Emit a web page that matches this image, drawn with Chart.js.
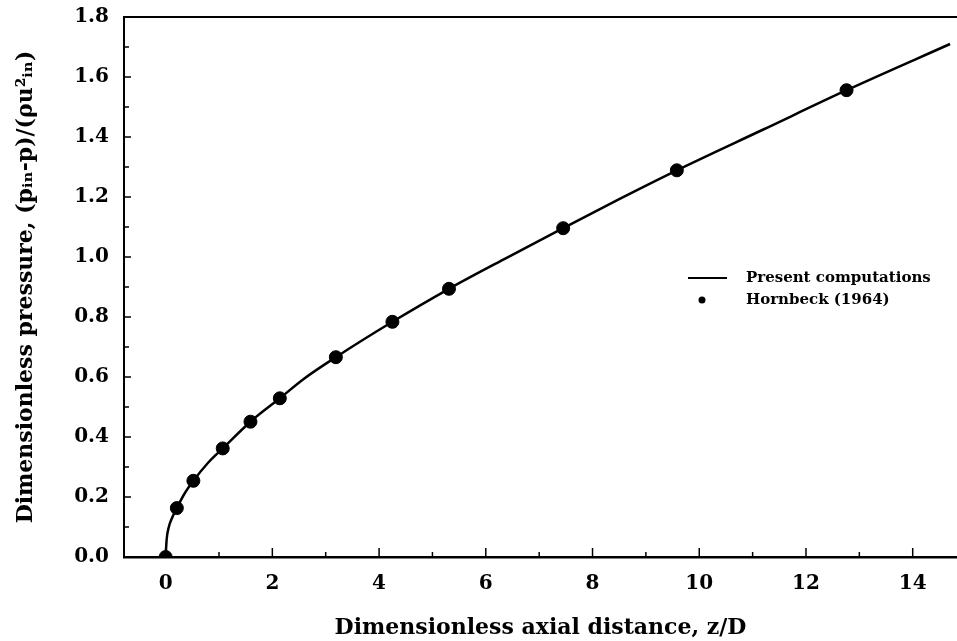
<!DOCTYPE html>
<html>
<head>
<meta charset="utf-8">
<script src="https://cdn.jsdelivr.net/npm/chart.js@4/dist/chart.umd.min.js"></script>
<style>
  html, body { margin: 0; padding: 0; background: #fff; overflow: hidden; }
  #wrap { width: 957px; height: 641px; }
</style>
</head>
<body>
<div id="wrap"><canvas id="chart"></canvas></div>
<script>
// present computations (solid line)
const lineX = [0, 0.02, 0.06, 0.12, 0.21, 0.35, 0.52, 0.8, 1.07, 1.59, 2.14, 2.6, 3.19, 4.25, 5.31, 6.4, 7.45, 8.5, 9.58, 11.2, 12.76, 14.7]
const lineY = [0, 0.06, 0.1, 0.13, 0.163, 0.21, 0.254, 0.315, 0.362, 0.451, 0.529, 0.595, 0.666, 0.784, 0.894, 0.998, 1.096, 1.193, 1.289, 1.425, 1.556, 1.71]

// Hornbeck (1964) measurements
const hornX = [0, 0.21, 0.52, 1.07, 1.59, 2.14, 3.19, 4.25, 5.31, 7.45, 9.58, 12.76]
const hornY = [0, 0.163, 0.254, 0.362, 0.451, 0.529, 0.666, 0.784, 0.894, 1.096, 1.289, 1.556]

const xTicks = [0, 2, 4, 6, 8, 10, 12, 14]
const yTicks = [0, 0.2, 0.4, 0.6, 0.8, 1.0, 1.2, 1.4, 1.6, 1.8]

const legendNames = ['Present computations', 'Hornbeck (1964)']

const serif = "'DejaVu Serif', 'Liberation Serif', serif"

function toPoints(xs, ys) {
    let pts = []
    for (let i = 0; i < xs.length; i++) pts.push({x: xs[i], y: ys[i]})
    return pts
}

// inward ticks, top frame line and the in-plot legend
const decorations = {
    id: 'decorations',
    afterDraw(chart) {
        const ctx = chart.ctx
        const xs = chart.scales.x
        const ys = chart.scales.y
        const area = chart.chartArea
        ctx.save()
        ctx.strokeStyle = '#000'

        // top frame
        ctx.lineWidth = 2
        ctx.beginPath()
        ctx.moveTo(area.left, area.top)
        ctx.lineTo(area.right, area.top)
        ctx.stroke()

        ctx.lineWidth = 1.5
        for (let v = 0; v <= 14; v++) {
            const px = xs.getPixelForValue(v)
            const len = v % 2 === 0 ? 9 : 5
            ctx.beginPath()
            ctx.moveTo(px, area.bottom)
            ctx.lineTo(px, area.bottom - len)
            ctx.stroke()
        }
        for (let k = 1; k <= 18; k++) {
            const py = ys.getPixelForValue(k / 10)
            const len = k % 2 === 0 ? 7 : 5
            ctx.beginPath()
            ctx.moveTo(area.left, py)
            ctx.lineTo(area.left + len, py)
            ctx.stroke()
        }

        // legend
        const lx = 688, ly = 278
        ctx.lineWidth = 2
        ctx.beginPath()
        ctx.moveTo(lx, ly)
        ctx.lineTo(lx + 39, ly)
        ctx.stroke()
        ctx.fillStyle = '#000'
        ctx.beginPath()
        ctx.arc(lx + 14, ly + 22, 3.5, 0, Math.PI * 2)
        ctx.fill()
        ctx.font = "bold 15px " + serif
        ctx.textBaseline = 'middle'
        ctx.textAlign = 'left'
        ctx.fillText(legendNames[0], lx + 58, ly)
        ctx.fillText(legendNames[1], lx + 58, ly + 22)
        ctx.restore()
    }
}

new Chart(document.getElementById('chart'), {
    type: 'scatter',
    data: {
        datasets: [{
            label: legendNames[0],
            data: toPoints(lineX, lineY),
            showLine: true,
            borderColor: '#000',
            borderWidth: 2.5,
            pointRadius: 0,
            cubicInterpolationMode: 'monotone',
            order: 2
        }, {
            label: legendNames[1],
            data: toPoints(hornX, hornY),
            showLine: false,
            backgroundColor: '#000',
            borderColor: '#000',
            pointRadius: 6.5,
            order: 1
        }]
    },
    options: {
        responsive: true,
        maintainAspectRatio: false,
        animation: false,
        layout: { autoPadding: false, padding: { top: 17, right: 0, left: 0, bottom: 0 } },
        plugins: {
            legend: { display: false },
            tooltip: { enabled: false }
        },
        scales: {
            x: {
                type: 'linear',
                min: -0.78,
                max: 14.83,
                afterBuildTicks: (scale) => { scale.ticks = xTicks.map(v => ({value: v})) },
                afterFit: (scale) => {
                    scale.height = 84
                    scale.paddingLeft = 0
                    scale.paddingRight = 0
                },
                grid: { display: false, drawTicks: false },
                border: { display: true, color: '#000', width: 2.5 },
                ticks: {
                    color: '#000',
                    padding: 15,
                    maxRotation: 0,
                    font: { family: serif, size: 20, weight: 'bold' }
                },
                title: {
                    display: true,
                    text: 'Dimensionless axial distance, z/D',
                    color: '#000',
                    padding: { top: 0, bottom: 0 },
                    font: { family: serif, size: 22, weight: 'bold' }
                }
            },
            y: {
                type: 'linear',
                min: 0,
                max: 1.8,
                afterBuildTicks: (scale) => { scale.ticks = yTicks.map(v => ({value: v})) },
                afterFit: (scale) => {
                    scale.width = 124
                    scale.paddingTop = 0
                    scale.paddingBottom = 0
                },
                grid: { display: false, drawTicks: false },
                border: { display: true, color: '#000', width: 2 },
                ticks: {
                    color: '#000',
                    padding: 15,
                    callback: (v) => Number(v).toFixed(1),
                    font: { family: serif, size: 20, weight: 'bold' }
                },
                title: {
                    display: true,
                    text: 'Dimensionless pressure, (pᵢₙ-p)/(ρu²ᵢₙ)',
                    color: '#000',
                    padding: { top: 13, bottom: 0 },
                    font: { family: serif, size: 22, weight: 'bold' }
                }
            }
        }
    },
    plugins: [decorations]
});
</script>
</body>
</html>
